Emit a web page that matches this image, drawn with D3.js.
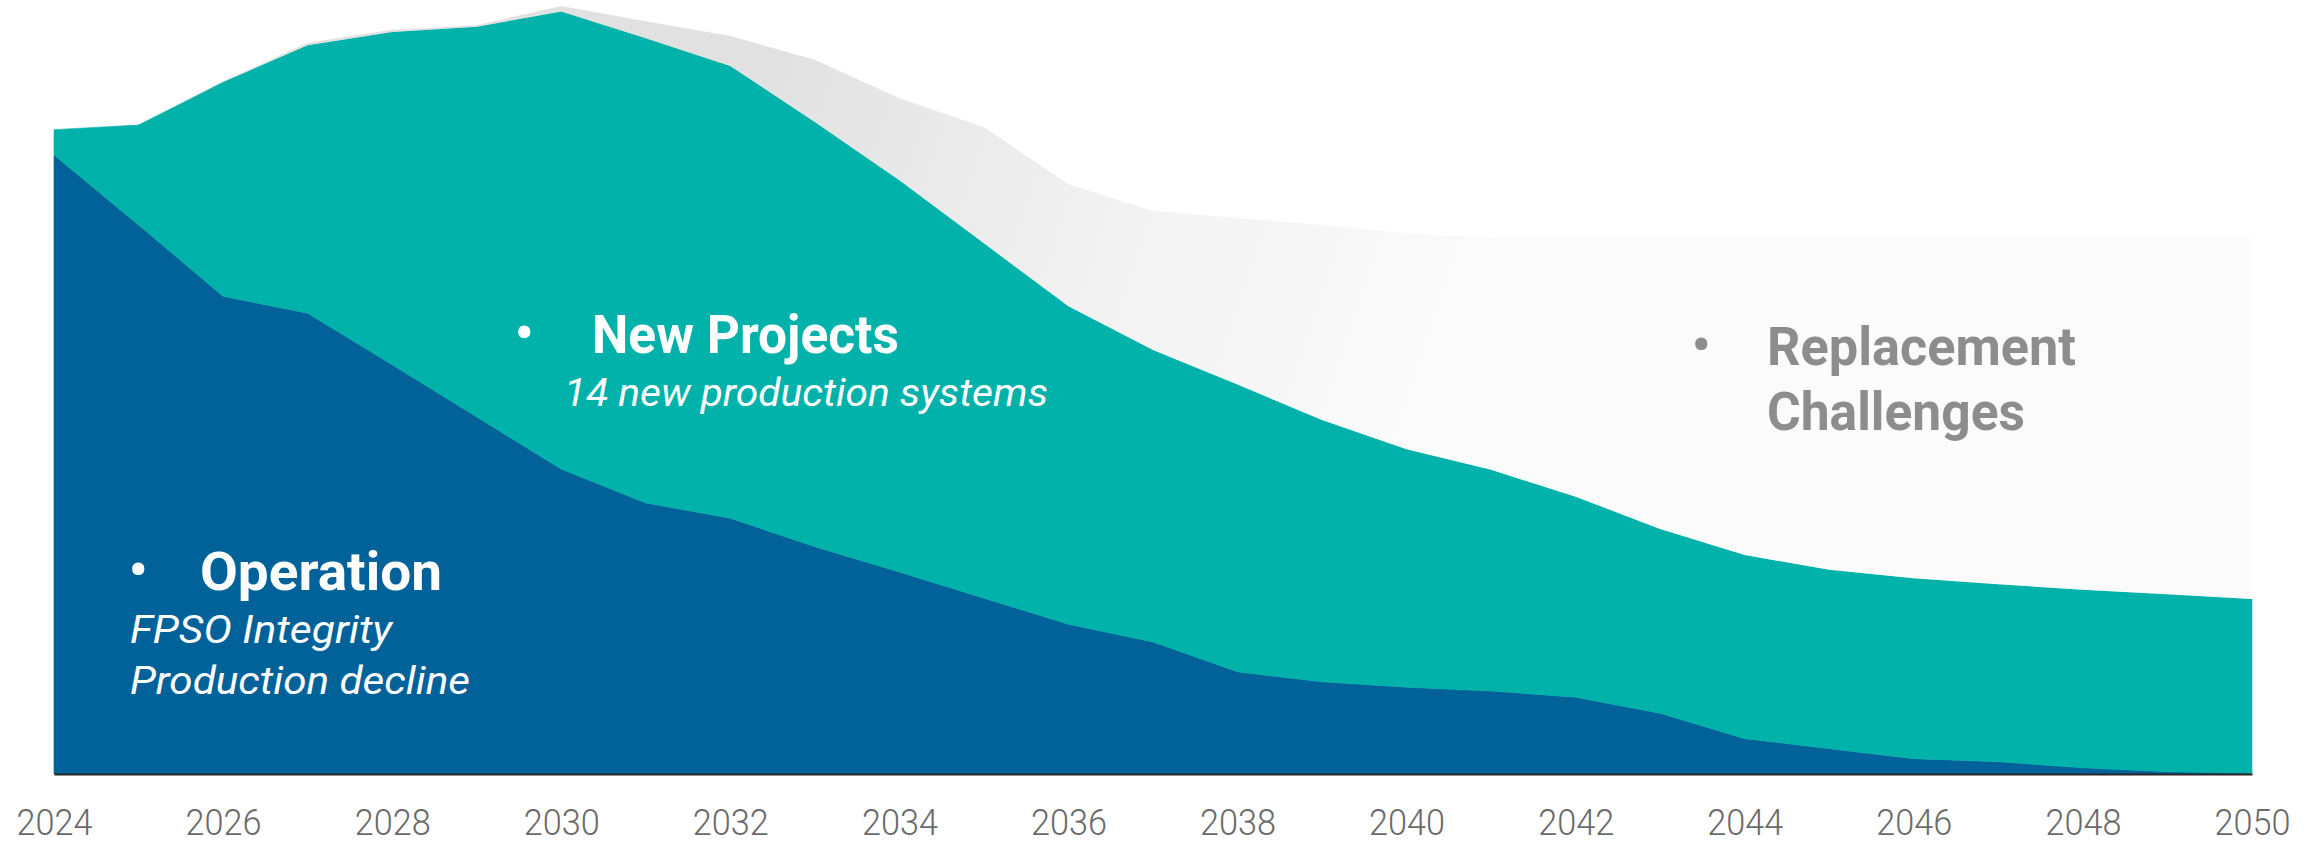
<!DOCTYPE html>
<html>
<head>
<meta charset="utf-8">
<script src="https://cdn.jsdelivr.net/npm/d3@7"></script>
<style>
  html, body { margin: 0; padding: 0; background: #ffffff; }
  svg { display: block; }
</style>
</head>
<body>
<svg id="chart" width="2323" height="844"></svg>
<script>
// Production outlook by source (index, peak total = 100)
const years = [2024, 2025, 2026, 2027, 2028, 2029, 2030, 2031, 2032, 2033, 2034, 2035, 2036,
               2037, 2038, 2039, 2040, 2041, 2042, 2043, 2044, 2045, 2046, 2047, 2048, 2049, 2050];

const operation = [80.6, 71.5, 62.2, 60.0, 53.3, 46.5, 39.7, 35.3, 33.3, 29.6, 26.3, 22.9, 19.5,
                   17.2, 13.3, 12.0, 11.3, 10.8, 10.0, 7.9, 4.6, 3.3, 2.0, 1.6, 0.8, 0.3, 0.1];

const newProjects = [3.3, 13.0, 27.9, 34.9, 43.3, 50.8, 59.6, 60.5, 58.9, 55.3, 51.0, 46.2, 41.4,
                     38.0, 37.4, 34.1, 31.0, 28.8, 26.1, 24.0, 23.9, 23.3, 23.5, 23.1, 23.2, 23.1, 22.7];

const replacement = [0.0, 0.0, 0.1, 0.3, 0.3, 0.2, 0.7, 2.2, 3.9, 8.1, 10.7, 15.1, 15.9,
                     18.1, 21.7, 25.4, 28.1, 30.2, 33.8, 38.0, 41.4, 43.3, 44.4, 45.2, 45.9, 46.5, 47.1];

const tickYears = [2024, 2026, 2028, 2030, 2032, 2034, 2036, 2038, 2040, 2042, 2044, 2046, 2048, 2050];

const seriesKeys = ["operation", "newProjects", "replacement"];
const seriesFill = {
  operation: "#01629a",
  newProjects: "#00b2aa",
  replacement: "url(#replacementFade)"
};

const table = years.map((yr, i) => ({
  year: yr,
  operation: operation[i],
  newProjects: newProjects[i],
  replacement: replacement[i]
}));

const svg = d3.select("#chart");

const x = d3.scaleLinear().domain([2024, 2050]).range([54, 2252]);
const y = d3.scaleLinear().domain([0, 100]).range([774, 6]);

// soft grey fade for the replacement gap
const defs = svg.append("defs");
const grad = defs.append("linearGradient")
  .attr("id", "replacementFade")
  .attr("gradientUnits", "userSpaceOnUse")
  .attr("x1", 760).attr("y1", 60)
  .attr("x2", 1480).attr("y2", 300);
grad.append("stop").attr("offset", "0").attr("stop-color", "#e1e1e1");
grad.append("stop").attr("offset", "0.55").attr("stop-color", "#f3f3f3");
grad.append("stop").attr("offset", "1").attr("stop-color", "#fbfbfb");

const stacked = d3.stack().keys(seriesKeys)(table);

const area = d3.area()
  .x(d => x(d.data.year))
  .y0(d => y(d[0]))
  .y1(d => y(d[1]));

svg.append("g")
  .selectAll("path")
  .data(stacked)
  .join("path")
  .attr("d", area)
  .attr("fill", d => seriesFill[d.key])
  .attr("stroke", d => d.key === "replacement" ? "none" : seriesFill[d.key])
  .attr("stroke-width", 0.6);

// x axis
const axis = svg.append("g")
  .attr("transform", `translate(0,${y(0)})`)
  .call(d3.axisBottom(x).tickValues(tickYears).tickFormat(d => String(d)).tickSize(0).tickSizeOuter(0));

axis.select(".domain")
  .attr("stroke", "#2a2724")
  .attr("stroke-width", 2.2);

axis.selectAll(".tick text")
  .attr("y", 61)
  .attr("dy", 0)
  .attr("fill", "#6a6a6a")
  .attr("font-family", "Roboto, 'Noto Sans', sans-serif")
  .attr("font-weight", 300)
  .attr("font-size", 36)
  .attr("textLength", 76)
  .attr("lengthAdjust", "spacingAndGlyphs");

// annotations
const labelFont = "Roboto, 'Noto Sans', sans-serif";

function label(txt, px, py, opts) {
  svg.append("text")
    .attr("x", px)
    .attr("y", py)
    .attr("font-family", labelFont)
    .attr("font-size", opts.size)
    .attr("font-weight", opts.weight || 400)
    .attr("font-style", opts.italic ? "italic" : "normal")
    .attr("fill", opts.color)
    .attr("text-anchor", opts.anchor || "start")
    .attr("textLength", opts.width || null)
    .attr("lengthAdjust", opts.width ? "spacingAndGlyphs" : null)
    .text(txt);
}

// Operation
label("•", 138, 588, { size: 52, weight: 700, color: "#ffffff", anchor: "middle" });
label("Operation", 200, 590, { size: 53, weight: 700, color: "#ffffff", width: 242 });
label("FPSO Integrity", 130, 643, { size: 39, italic: true, color: "#ffffff", width: 262 });
label("Production decline", 130, 694, { size: 39, italic: true, color: "#ffffff", width: 340 });

// New Projects
label("•", 524, 351, { size: 52, weight: 700, color: "#ffffff", anchor: "middle" });
label("New Projects", 592, 353, { size: 53, weight: 700, color: "#ffffff", width: 307 });
label("14 new production systems", 564, 406, { size: 39, italic: true, color: "#ffffff", width: 484 });

// Replacement Challenges
label("•", 1701, 363, { size: 52, weight: 700, color: "#8d8d8d", anchor: "middle" });
label("Replacement", 1767, 365, { size: 53, weight: 700, color: "#8d8d8d", width: 309 });
label("Challenges", 1767, 430, { size: 53, weight: 700, color: "#8d8d8d", width: 258 });
</script>
</body>
</html>
